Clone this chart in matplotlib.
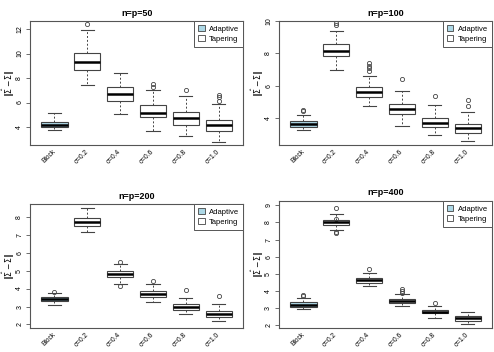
import matplotlib
matplotlib.use('Agg')
import matplotlib.pyplot as plt
from matplotlib.patches import Patch

plt.rcParams['font.family'] = ['Liberation Sans', 'DejaVu Sans']

labels = ['Block', 'σ=0.2', 'σ=0.4', 'σ=0.6', 'σ=0.8', 'σ=1.0']
titles = ['n=p=50', 'n=p=100', 'n=p=200', 'n=p=400']

# five-number summaries per panel: whisker low, q1, median, q3, whisker high
lo_50 = [3.78, 7.40, 5.02, 3.70, 3.26, 2.79]
q1_50 = [3.97, 8.66, 6.11, 4.82, 4.19, 3.70]
med_50 = [4.19, 9.30, 6.66, 5.15, 4.71, 4.14]
q3_50 = [4.41, 10.04, 7.24, 5.76, 5.26, 4.60]
hi_50 = [5.10, 11.96, 8.39, 7.02, 6.55, 5.87]
out_50 = [[], [12.42], [], [7.48, 7.24], [7.02], [6.60, 6.41, 6.14]]

lo_100 = [3.25, 6.99, 4.71, 3.52, 2.93, 2.54]
q1_100 = [3.44, 7.85, 5.32, 4.25, 3.44, 3.08]
med_100 = [3.60, 8.16, 5.57, 4.56, 3.67, 3.37]
q3_100 = [3.77, 8.56, 5.90, 4.86, 3.98, 3.64]
hi_100 = [4.15, 9.38, 6.61, 5.67, 4.79, 4.36]
out_100 = [[4.50, 4.40], [9.90, 9.73], [7.39, 7.22, 7.07, 6.90], [6.38], [5.34], [5.11, 4.71]]

lo_200 = [3.09, 7.17, 4.27, 3.27, 2.61, 2.17]
q1_200 = [3.29, 7.51, 4.62, 3.53, 2.81, 2.44]
med_200 = [3.42, 7.69, 4.80, 3.71, 2.98, 2.61]
q3_200 = [3.53, 7.91, 4.96, 3.88, 3.12, 2.74]
hi_200 = [3.73, 8.48, 5.39, 4.28, 3.45, 3.12]
out_200 = [[3.82], [], [5.48, 4.12], [4.41], [3.92], [3.60]]

lo_400 = [2.97, 7.55, 4.32, 3.12, 2.46, 2.10]
q1_400 = [3.10, 7.84, 4.50, 3.32, 2.70, 2.29]
med_400 = [3.22, 8.00, 4.63, 3.43, 2.81, 2.44]
q3_400 = [3.35, 8.15, 4.75, 3.55, 2.89, 2.56]
hi_400 = [3.59, 8.48, 5.06, 3.82, 3.16, 2.81]
out_400 = [[3.80, 3.70], [8.85, 8.23, 7.45, 7.38], [5.29], [4.13, 3.99, 3.90], [3.30], []]

panels = [
    (lo_50, q1_50, med_50, q3_50, hi_50, out_50),
    (lo_100, q1_100, med_100, q3_100, hi_100, out_100),
    (lo_200, q1_200, med_200, q3_200, hi_200, out_200),
    (lo_400, q1_400, med_400, q3_400, hi_400, out_400),
]
yticks = [[4, 6, 8, 10, 12], [4, 6, 8, 10], [2, 3, 4, 5, 6, 7, 8], [2, 3, 4, 5, 6, 7, 8, 9]]
ylims = [(2.52, 12.66), (2.31, 10.0), (1.8, 8.7), (1.85, 9.25)]

# axes rectangles in figure fraction
rects = [
    [0.061, 0.588, 0.431, 0.352],
    [0.565, 0.588, 0.431, 0.352],
    [0.061, 0.068, 0.431, 0.352],
    [0.565, 0.068, 0.431, 0.361],
]

fig = plt.figure(figsize=(4.94, 3.52), dpi=100)
frame = '#555555'

for k, (lo, q1, med, q3, hi, out) in enumerate(panels):
    ax = fig.add_axes(rects[k])
    stats = []
    for i in range(len(labels)):
        stats.append({'whislo': lo[i], 'q1': q1[i], 'med': med[i], 'q3': q3[i],
                      'whishi': hi[i], 'fliers': out[i]})
    bp = ax.bxp(stats, positions=range(1, 7), widths=0.8, patch_artist=True,
                boxprops=dict(edgecolor='#444444', linewidth=0.8),
                medianprops=dict(color='black', linewidth=1.8),
                whiskerprops=dict(color='#444444', linewidth=0.7, linestyle=(0, (2, 2))),
                capprops=dict(color='#444444', linewidth=0.8),
                flierprops=dict(marker='o', markersize=3, markerfacecolor='none',
                                markeredgecolor='#444444', markeredgewidth=0.6))
    for i, b in enumerate(bp['boxes']):
        b.set_facecolor('#ADD8E6' if i == 0 else 'white')
    for c in bp['caps']:
        x0, x1 = c.get_xdata()
        m = (x0 + x1) / 2
        c.set_xdata([m - 0.2, m + 0.2])

    ax.set_xlim(0.26, 6.74)
    ax.set_ylim(*ylims[k])
    ax.set_yticks(yticks[k])
    ax.set_yticklabels([str(t) for t in yticks[k]], rotation=90, va='center', fontsize=5)
    ax.set_xticks(range(1, 7))
    ax.set_xticklabels(labels, rotation=45, ha='right', va='center',
                       rotation_mode='anchor', fontsize=4.8)
    ax.tick_params(axis='x', length=0, pad=4)
    ax.tick_params(axis='y', length=3, width=0.6, color=frame, pad=2)
    for s in ax.spines.values():
        s.set_color(frame)
        s.set_linewidth(0.8)
    ax.set_ylabel(r'$\|\hat{\Sigma}-\Sigma\|$', fontsize=5.5)
    ax.yaxis.set_label_coords(-0.06, 0.5)
    ax.set_title(titles[k], fontsize=6.5, fontweight='bold', pad=4)
    handles = [Patch(facecolor='#ADD8E6', edgecolor='#444444', linewidth=0.6, label='Adaptive'),
               Patch(facecolor='white', edgecolor='#444444', linewidth=0.6, label='Tapering')]
    leg = ax.legend(handles=handles, loc='upper right', fontsize=5.5, fancybox=False,
                    framealpha=1, handlelength=0.9, handleheight=0.9, borderaxespad=0,
                    handletextpad=0.6, borderpad=0.5, labelspacing=0.3)
    leg.get_frame().set_edgecolor(frame)
    leg.get_frame().set_linewidth(0.7)

fig.savefig('out.png', dpi=100)
